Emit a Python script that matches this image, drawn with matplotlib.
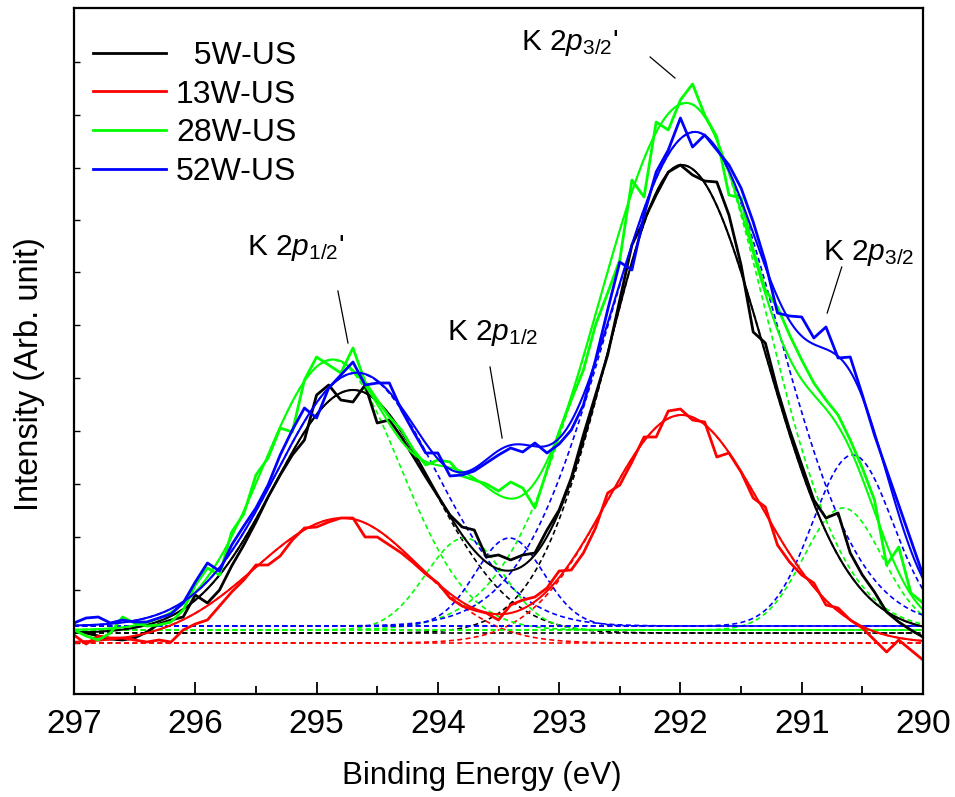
import numpy as np
import matplotlib
matplotlib.use('Agg')
import matplotlib.pyplot as plt

plt.rcParams['font.family'] = ['Liberation Sans', 'DejaVu Sans']
plt.rcParams['mathtext.fontset'] = 'custom'
plt.rcParams['mathtext.rm'] = 'Liberation Sans'
plt.rcParams['mathtext.it'] = 'Liberation Sans:italic'

# ---------------- data ----------------
energy = np.linspace(297.0, 290.0, 71)   # binding energy grid, 0.1 eV step

labels = ['  5W-US', '13W-US', '28W-US', '52W-US']
colors = ['#000000', '#FF0000', '#00FF00', '#0000FF']

raw_5W = [62, 61, 58, 55, 54, 56, 62, 70, 74, 77,
          99, 91, 104, 128, 149, 172, 197, 219, 239, 254,
          299, 309, 294, 292, 309, 271, 274, 257, 237, 217,
          198, 179, 167, 164, 137, 139, 134, 139, 141, 164,
          184, 216, 259, 299, 339, 394, 449, 474, 499, 522,
          529, 519, 513, 512, 479, 429, 362, 351, 304, 264,
          229, 194, 176, 181, 141, 119, 102, 82, 72, 64, 57]
raw_13W = [59, 50, 58, 56, 56, 54, 52, 54, 52, 64,
           70, 74, 88, 102, 114, 129, 129, 138, 154, 166,
           167, 172, 176, 176, 157, 157, 149, 141, 131, 120,
           111, 96, 88, 84, 81, 74, 89, 94, 97, 106,
           123, 124, 141, 166, 201, 209, 232, 257, 257, 283,
           285, 274, 272, 237, 241, 222, 196, 187, 149, 132,
           119, 111, 89, 86, 74, 66, 54, 42, 54, 44, 34]
raw_28W = [64, 58, 54, 61, 77, 71, 68, 69, 72, 84,
           109, 126, 119, 162, 180, 219, 236, 266, 262, 314,
           337, 329, 321, 346, 312, 294, 277, 264, 244, 229,
           234, 232, 218, 214, 210, 203, 212, 206, 186, 224,
           262, 294, 324, 369, 401, 434, 514, 497, 572, 564,
           594, 610, 579, 557, 499, 496, 444, 404, 387, 359,
           334, 311, 294, 279, 254, 226, 194, 129, 147, 101, 91]
raw_52W = [71, 76, 77, 71, 74, 72, 72, 76, 80, 91,
           112, 131, 123, 149, 168, 186, 209, 239, 264, 286,
           276, 306, 319, 332, 309, 311, 311, 284, 262, 241,
           241, 218, 219, 223, 231, 239, 246, 242, 251, 241,
           250, 264, 289, 334, 384, 432, 424, 479, 522, 544,
           576, 547, 559, 544, 529, 506, 472, 432, 381, 378,
           377, 356, 367, 336, 337, 299, 259, 224, 189, 154, 119]
raw_data = [raw_5W, raw_13W, raw_28W, raw_52W]

# fitted background level for each sample
baselines = [61, 51, 64, 68]
# fitted components: centre (eV), height, sigma on high-BE side, sigma on low-BE side
peaks_5W = [(294.70, 243, 0.65, 0.65), (291.99, 468, 0.60, 0.68)]
peaks_13W = [(294.78, 125, 0.72, 0.63), (291.99, 228, 0.63, 0.65)]
peaks_28W = [(294.87, 270, 0.57, 0.56), (293.78, 92, 0.32, 0.32),
             (291.95, 527, 0.74, 0.65), (290.66, 122, 0.32, 0.32)]
peaks_52W = [(294.67, 253, 0.66, 0.66), (293.41, 88, 0.28, 0.28),
             (291.88, 494, 0.72, 0.68), (290.58, 171, 0.33, 0.33)]
peak_sets = [peaks_5W, peaks_13W, peaks_28W, peaks_52W]

y_ticks = [51, 104, 157, 210, 263, 316, 369, 422, 474, 526, 579, 632]


def component(e, c, h, s_hi, s_lo):
    s = np.where(e >= c, s_hi, s_lo)
    return h * np.exp(-(e - c) ** 2 / (2 * s ** 2))


# ---------------- plot ----------------
fig = plt.figure(figsize=(9.55, 7.97), dpi=100)
ax = fig.add_axes([74 / 955, 1 - 694 / 797, 849 / 955, 686 / 797])

e_fine = np.linspace(297.0, 290.0, 701)

# dashed components
for col, base, peaks in zip(colors, baselines, peak_sets):
    for (c, h, sh, sl) in peaks:
        ax.plot(e_fine, base + component(e_fine, c, h, sh, sl), color=col,
                lw=1.2, ls=(0, (3, 2)))
    ax.plot(e_fine, np.full_like(e_fine, base), color=col, lw=1.2, ls=(0, (3, 2)))

# raw and fit envelopes
for lab, col, raw, base, peaks in zip(labels, colors, raw_data, baselines, peak_sets):
    fit = np.full_like(e_fine, float(base))
    for (c, h, sh, sl) in peaks:
        fit = fit + component(e_fine, c, h, sh, sl)
    ax.plot(e_fine, fit, color=col, lw=1.5)
    ax.plot(energy, raw, color=col, lw=2.0, label=lab)

ax.set_xlim(297, 290)
ax.set_ylim(0, 686)
ax.set_xticks(np.arange(297, 289.9, -1))
ax.set_xticks(np.arange(296.5, 290, -1), minor=True)
ax.set_xticklabels([str(v) for v in range(297, 289, -1)])
ax.set_yticks(y_ticks)
ax.set_yticklabels([])
ax.tick_params(axis='x', which='major', direction='in', length=9, width=1.3,
               labelsize=24, pad=11)
ax.tick_params(axis='x', which='minor', direction='in', length=5.5, width=1.3)
ax.tick_params(axis='y', which='major', direction='in', length=4, width=1.0)
for sp in ax.spines.values():
    sp.set_linewidth(1.6)

ax.set_xlabel('Binding Energy (eV)', fontsize=22.5)
ax.xaxis.set_label_coords((482 - 74) / 849, -0.097)
ax.set_ylabel('Intensity (Arb. unit)', fontsize=23.5)
ax.yaxis.set_label_coords(-0.034, 0.466)

leg = ax.legend(loc='upper left', bbox_to_anchor=(0.0224, 0.952), frameon=False,
                fontsize=23, handlelength=2.3, handletextpad=0.3,
                labelspacing=0.27, borderpad=0, borderaxespad=0)

# annotations
ann_fs = 21.5
ax.text(295.57, 439, r"K 2$\mathit{p}_{\mathrm{1/2}}$'", fontsize=ann_fs, ha='left', va='baseline')
ax.plot([294.824, 294.741], [403, 351], color='black', lw=0.9)
ax.text(293.925, 354, r"K 2$\mathit{p}_{\mathrm{1/2}}$", fontsize=ann_fs, ha='left', va='baseline')
ax.plot([293.57, 293.47], [327, 256], color='black', lw=0.9)
ax.text(293.315, 644, r"K 2$\mathit{p}_{\mathrm{3/2}}$'", fontsize=ann_fs, ha='left', va='baseline')
ax.plot([292.25, 292.045], [637, 616], color='black', lw=0.9)
ax.text(290.825, 434, r"K 2$\mathit{p}_{\mathrm{3/2}}$", fontsize=ann_fs, ha='left', va='baseline')
ax.plot([290.67, 290.79], [427, 381], color='black', lw=0.9)

fig.savefig('out.png', dpi=100)
